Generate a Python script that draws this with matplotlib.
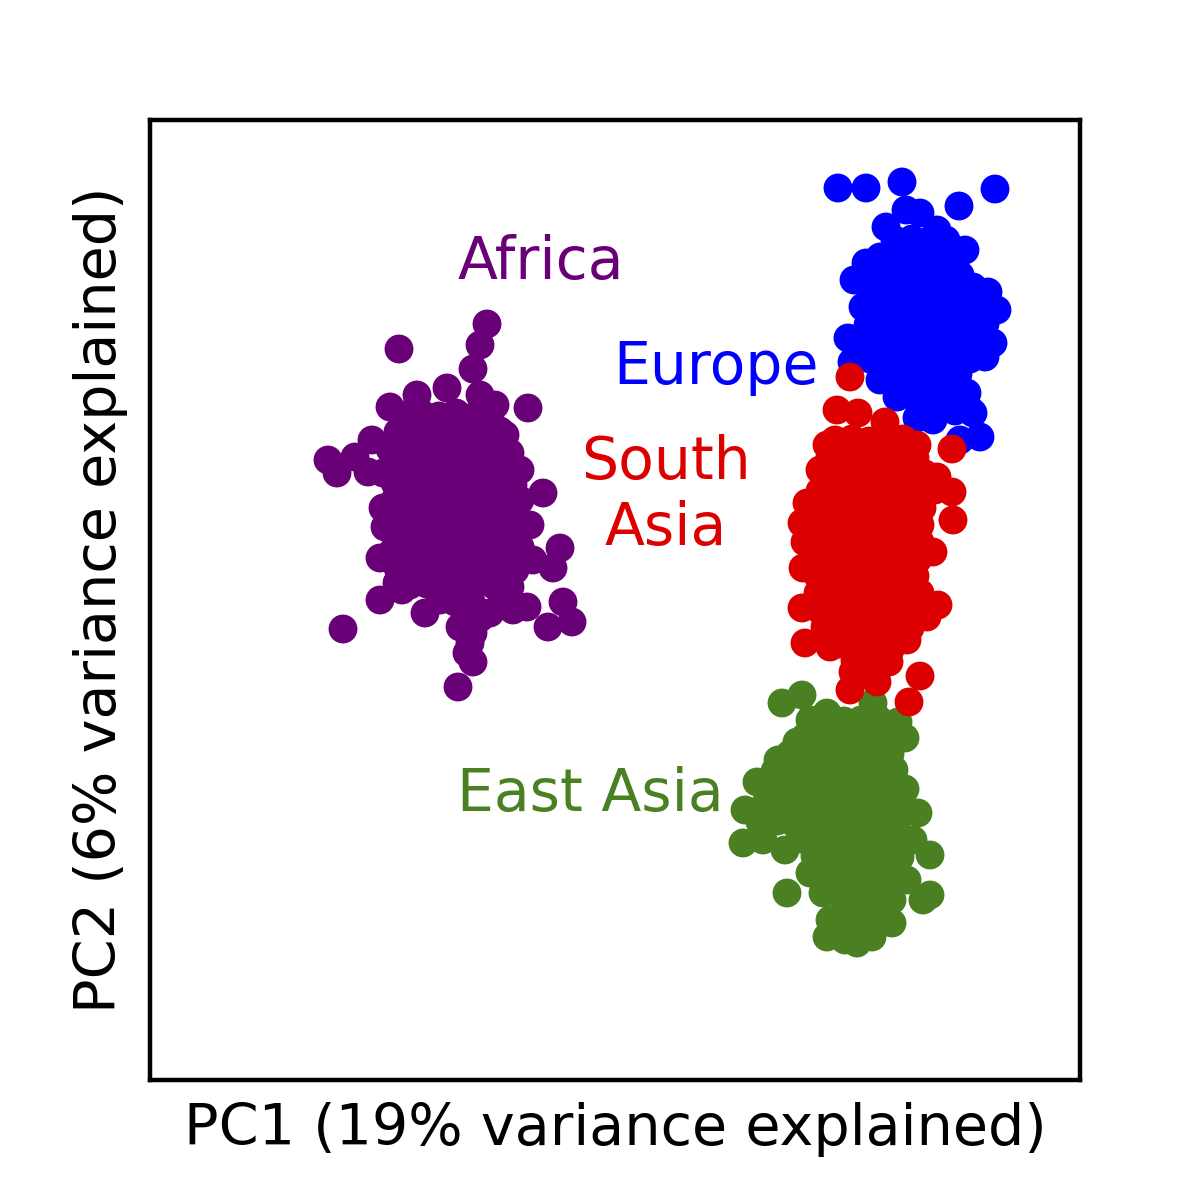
import numpy as np
import matplotlib
matplotlib.use("Agg")
import matplotlib.pyplot as plt

# PCA scores (arbitrary PC units), one list per region

africa = [
    (33.7, 75.6), (33.0, 73.5), (32.3, 71.1), (24.9, 73.1), (37.8, 67.2),
    (17.8, 62.0), (18.7, 60.7), (20.5, 62.3), (21.8, 60.8), (39.3, 58.7),
    (38.0, 55.5), (41.0, 53.2), (40.3, 51.2), (38.3, 52.0), (41.3, 47.8),
    (42.2, 45.8), (39.8, 45.3), (19.3, 45.1), (23.0, 48.0), (23.0, 52.2),
    (25.2, 49.0), (27.5, 46.7), (32.0, 43.7), (32.3, 41.8), (30.8, 39.3),
    (31.7, 42.7), (36.3, 47.0), (37.7, 47.3), (24.0, 67.3), (26.7, 68.5),
    (29.7, 69.2), (33.0, 68.5), (34.5, 67.5), (35.5, 64.5), (36.0, 62.7),
    (37.0, 61.0), (22.2, 64.0), (23.3, 60.7), (23.3, 57.2), (23.5, 55.3),
    (37.0, 58.0), (37.0, 53.3), (24.7, 49.7), (29.0, 48.0), (34.0, 46.7),
    (31.0, 45.3), (32.3, 44.7),
    # dense core
    (25.5, 66.5), (27.2, 66.6), (28.9, 66.4), (30.6, 66.7), (32.3, 66.3), (34.0, 66.1),
    (24.8, 64.8), (26.5, 64.9), (28.2, 64.6), (29.9, 64.8), (31.6, 65.0), (33.3, 64.7), (35.0, 64.9),
    (24.0, 63.1), (25.7, 63.0), (27.4, 63.3), (29.1, 63.1), (30.8, 62.9), (32.5, 63.2), (34.2, 63.0), (35.6, 62.8),
    (24.3, 61.4), (26.0, 61.5), (27.7, 61.2), (29.4, 61.4), (31.1, 61.6), (32.8, 61.3), (34.5, 61.4), (36.0, 61.5),
    (24.5, 59.7), (26.2, 59.8), (27.9, 59.6), (29.6, 59.7), (31.3, 59.9), (33.0, 59.6), (34.7, 59.7), (36.3, 59.5),
    (24.5, 58.0), (26.2, 58.1), (27.9, 57.9), (29.6, 58.0), (31.3, 58.2), (33.0, 57.9), (34.7, 58.0), (36.2, 57.8),
    (24.6, 56.3), (26.3, 56.4), (28.0, 56.2), (29.7, 56.3), (31.4, 56.5), (33.1, 56.2), (34.8, 56.3), (36.3, 56.1),
    (24.5, 54.6), (26.2, 54.7), (27.9, 54.5), (29.6, 54.6), (31.3, 54.8), (33.0, 54.5), (34.7, 54.6), (36.2, 54.8),
    (24.3, 52.9), (26.0, 53.0), (27.7, 52.8), (29.4, 52.9), (31.1, 53.1), (32.8, 52.8), (34.5, 52.9), (36.0, 52.7),
    (24.8, 51.2), (26.5, 51.3), (28.2, 51.1), (29.9, 51.2), (31.6, 51.4), (33.3, 51.1), (35.0, 51.2), (36.5, 51.0),
    (26.0, 49.5), (27.7, 49.6), (29.4, 49.4), (31.1, 49.5), (32.8, 49.7), (34.5, 49.4), (36.0, 49.3),
    (30.5, 47.8), (32.2, 47.6), (33.0, 46.2), (35.3, 47.9),
]

europe = [
    (68.8, 89.2), (71.6, 89.2), (75.2, 89.8), (84.5, 89.1), (80.9, 87.4),
    (75.6, 87.0), (77.0, 86.7), (73.6, 85.3), (78.7, 85.0), (81.5, 83.0),
    (71.6, 81.7), (70.4, 80.0), (71.3, 77.3), (69.8, 74.2), (70.2, 71.8),
    (82.3, 79.3), (83.8, 78.8), (84.7, 77.0), (84.3, 73.7), (83.5, 72.3),
    (73.0, 70.0), (74.7, 68.3), (76.7, 66.2), (78.3, 66.0), (82.3, 66.7),
    (83.0, 64.3), (81.7, 68.7), (81.0, 64.0),
    # dense core
    (74.5, 84.0), (76.2, 84.1), (77.9, 83.9), (79.6, 84.0),
    (73.0, 82.3), (74.7, 82.4), (76.4, 82.2), (78.1, 82.3), (79.8, 82.4),
    (72.5, 80.6), (74.2, 80.7), (75.9, 80.5), (77.6, 80.6), (79.3, 80.8), (81.0, 80.5),
    (72.3, 78.9), (74.0, 79.0), (75.7, 78.8), (77.4, 78.9), (79.1, 79.1), (80.8, 78.8), (82.5, 78.9),
    (72.5, 77.2), (74.2, 77.3), (75.9, 77.1), (77.6, 77.2), (79.3, 77.4), (81.0, 77.1), (82.7, 77.2),
    (71.8, 75.5), (73.5, 75.6), (75.2, 75.4), (76.9, 75.5), (78.6, 75.7), (80.3, 75.4), (82.0, 75.5), (83.5, 75.6),
    (71.5, 73.8), (73.2, 73.9), (74.9, 73.7), (76.6, 73.8), (78.3, 74.0), (80.0, 73.7), (81.7, 73.8), (83.0, 73.6),
    (72.0, 72.1), (73.7, 72.2), (75.4, 72.0), (77.1, 72.1), (78.8, 72.3), (80.5, 72.0), (82.0, 72.1),
    (74.0, 70.4), (75.7, 70.5), (77.4, 70.3), (79.1, 70.4), (80.8, 70.6),
    (75.5, 68.7), (77.2, 68.8), (78.9, 68.6), (80.5, 68.7),
    (77.0, 67.0), (78.7, 67.1), (80.5, 66.9), (82.0, 67.0),
]

east_asia = [
    (63.2, 37.7), (65.2, 38.5), (67.7, 36.7), (72.3, 37.7), (74.8, 35.8),
    (75.5, 34.2), (73.8, 32.0), (62.8, 32.0), (64.7, 33.8), (60.7, 29.8),
    (59.5, 27.0), (59.3, 23.7), (61.3, 24.0), (63.5, 23.0), (66.0, 20.7),
    (63.7, 18.7), (67.3, 18.7), (68.0, 16.0), (67.7, 14.3), (70.7, 13.7),
    (72.2, 14.3), (74.2, 15.7), (74.2, 18.0), (77.3, 18.0), (78.0, 18.5),
    (75.7, 20.0), (78.0, 22.5), (76.3, 24.0), (76.8, 26.7), (75.2, 28.5),
    (69.5, 14.0),
    # dense core
    (66.0, 36.0), (67.7, 36.1), (69.4, 35.9), (71.1, 36.0), (72.8, 36.1),
    (65.5, 34.3), (67.2, 34.4), (68.9, 34.2), (70.6, 34.3), (72.3, 34.5), (74.0, 34.3),
    (64.0, 32.6), (65.7, 32.7), (67.4, 32.5), (69.1, 32.6), (70.8, 32.8), (72.5, 32.5), (74.0, 32.6),
    (62.5, 30.9), (64.2, 31.0), (65.9, 30.8), (67.6, 30.9), (69.3, 31.1), (71.0, 30.8), (72.7, 30.9), (74.4, 31.0),
    (62.0, 29.2), (63.7, 29.3), (65.4, 29.1), (67.1, 29.2), (68.8, 29.4), (70.5, 29.1), (72.2, 29.2), (73.9, 29.3), (75.5, 29.1),
    (61.5, 27.5), (63.2, 27.6), (64.9, 27.4), (66.6, 27.5), (68.3, 27.7), (70.0, 27.4), (71.7, 27.5), (73.4, 27.6), (75.0, 27.4),
    (61.0, 25.8), (62.7, 25.9), (64.4, 25.7), (66.1, 25.8), (67.8, 26.0), (69.5, 25.7), (71.2, 25.8), (72.9, 25.9), (74.6, 25.7),
    (65.0, 24.1), (66.7, 24.2), (68.4, 24.0), (70.1, 24.1), (71.8, 24.3), (73.5, 24.0), (75.0, 24.1),
    (66.5, 22.4), (68.2, 22.5), (69.9, 22.3), (71.6, 22.4), (73.3, 22.6), (75.0, 22.3),
    (67.5, 20.7), (69.2, 20.8), (70.9, 20.6), (72.6, 20.7), (74.3, 20.9),
    (68.5, 19.0), (70.2, 19.1), (71.9, 18.9), (73.5, 19.0),
    (69.5, 17.3), (71.2, 17.4), (72.8, 17.2),
    (70.0, 15.6), (71.5, 15.7),
]

south_asia = [
    (70.0, 70.3), (68.7, 67.0), (70.8, 66.7), (73.5, 65.8), (76.7, 63.5),
    (80.2, 63.1), (67.7, 63.5), (67.0, 61.0), (80.2, 58.8), (80.3, 56.0),
    (65.7, 57.7), (65.2, 55.7), (65.5, 53.8), (78.3, 52.8), (65.3, 51.2),
    (78.8, 47.5), (65.2, 47.2), (65.5, 43.7), (77.7, 46.3), (75.7, 44.0),
    (68.0, 43.3), (70.3, 40.8), (72.7, 39.8), (70.0, 39.0), (77.0, 40.4),
    (75.9, 37.8), (74.0, 43.0), (78.7, 60.3),
    # dense core
    (68.5, 64.0), (70.2, 64.1), (71.9, 63.9), (73.6, 64.0), (75.3, 64.1),
    (68.0, 62.3), (69.7, 62.4), (71.4, 62.2), (73.1, 62.3), (74.8, 62.5), (76.5, 62.2),
    (67.5, 60.6), (69.2, 60.7), (70.9, 60.5), (72.6, 60.6), (74.3, 60.8), (76.0, 60.5), (77.5, 60.6),
    (67.0, 58.9), (68.7, 59.0), (70.4, 58.8), (72.1, 58.9), (73.8, 59.1), (75.5, 58.8), (77.2, 58.9), (78.5, 59.0),
    (67.0, 57.2), (68.7, 57.3), (70.4, 57.1), (72.1, 57.2), (73.8, 57.4), (75.5, 57.1), (77.2, 57.2),
    (66.8, 55.5), (68.5, 55.6), (70.2, 55.4), (71.9, 55.5), (73.6, 55.7), (75.3, 55.4), (77.0, 55.5),
    (67.0, 53.8), (68.7, 53.9), (70.4, 53.7), (72.1, 53.8), (73.8, 54.0), (75.5, 53.7), (77.0, 53.8),
    (66.8, 52.1), (68.5, 52.2), (70.2, 52.0), (71.9, 52.1), (73.6, 52.3), (75.3, 52.0), (76.8, 52.1),
    (66.8, 50.4), (68.5, 50.5), (70.2, 50.3), (71.9, 50.4), (73.6, 50.6), (75.3, 50.3), (76.5, 50.4),
    (66.8, 48.7), (68.5, 48.8), (70.2, 48.6), (71.9, 48.7), (73.6, 48.9), (75.3, 48.6), (77.0, 48.7),
    (67.0, 47.0), (68.7, 47.1), (70.4, 46.9), (72.1, 47.0), (73.8, 47.2), (75.5, 46.9), (77.0, 47.0),
    (67.5, 45.3), (69.2, 45.4), (70.9, 45.2), (72.6, 45.3), (74.3, 45.5), (76.0, 45.2),
    (69.0, 43.6), (70.7, 43.7), (72.4, 43.5), (74.1, 43.6),
    (70.5, 41.9), (72.2, 42.0), (73.9, 41.8),
]

regions = ["Africa", "Europe", "East Asia", "South\nAsia"]
colors = ["#690078", "#0000ff", "#4a8022", "#dd0000"]
label_pos = [(39.1, 81.8), (56.6, 71.2), (44.0, 28.5), (51.6, 58.5)]

fig = plt.figure(figsize=(6, 6), dpi=200)
ax = fig.add_axes([0.125, 0.1, 0.775, 0.8])

for pts, c in zip([africa, europe, east_asia, south_asia], colors):
    pts = np.array(pts)
    ax.scatter(pts[:, 0], pts[:, 1], s=108, c=c, edgecolors="none")

for name, c, (x, y) in zip(regions, colors, label_pos):
    ax.text(x, y, name, color=c, fontsize=21, ha="center", va="center",
            multialignment="center")

ax.set_xlim(0, 93)
ax.set_ylim(0, 96)
ax.set_xticks([])
ax.set_yticks([])
for sp in ax.spines.values():
    sp.set_linewidth(1.6)

ax.set_xlabel("PC1 (19% variance explained)", fontsize=20.6, labelpad=8)
ax.set_ylabel("PC2 (6% variance explained)", fontsize=20.6, labelpad=8)

fig.savefig("out.png", dpi=200)
